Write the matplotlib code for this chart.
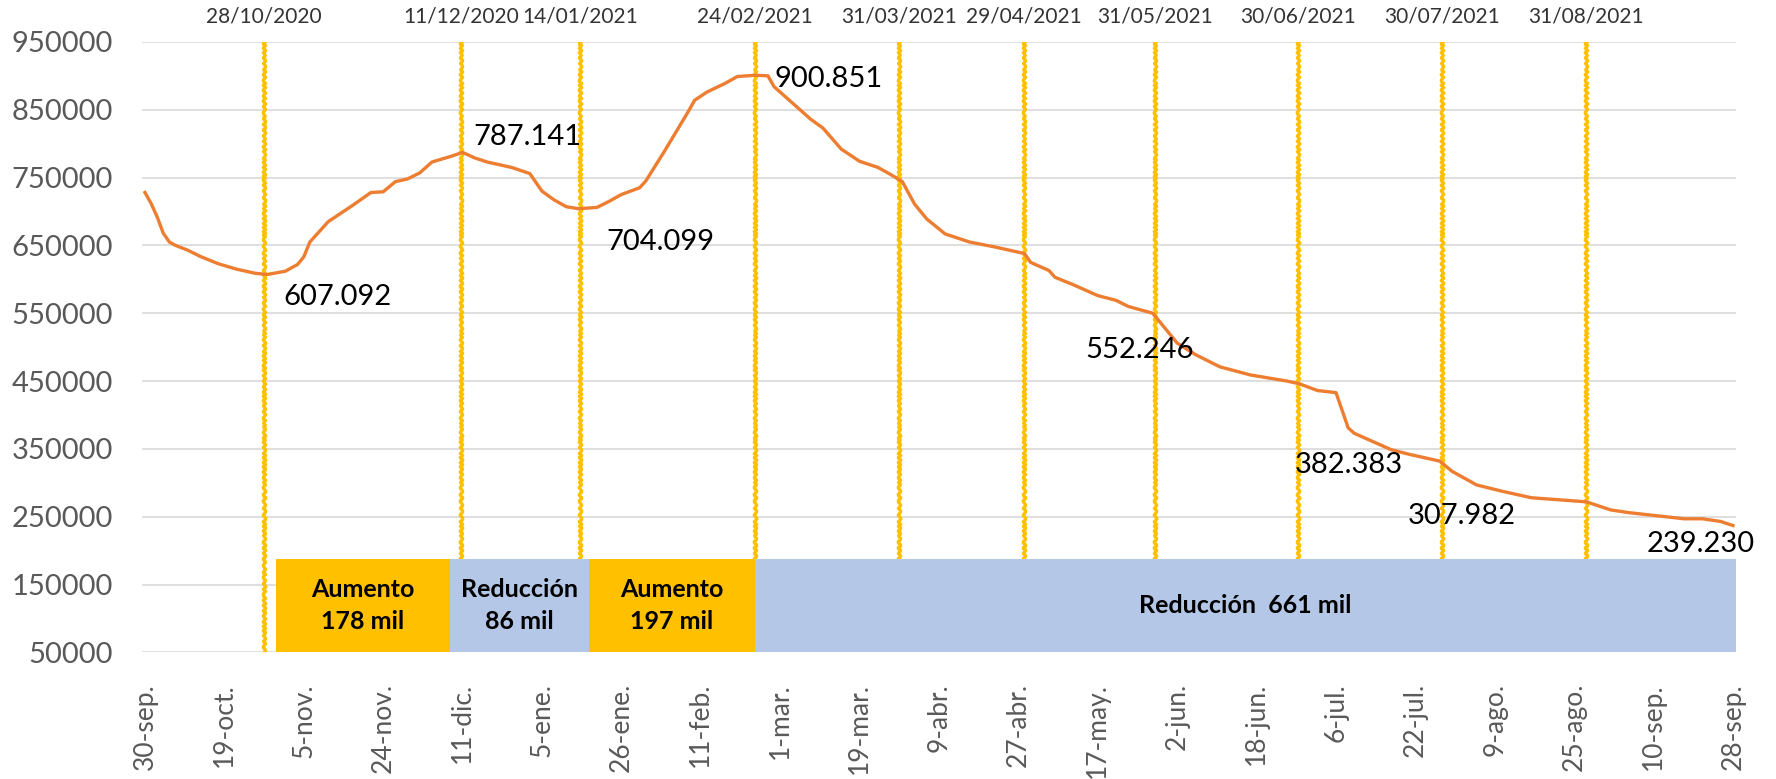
import matplotlib
matplotlib.use("Agg")
import matplotlib.pyplot as plt
from matplotlib.patches import Rectangle

# category axis: one point per business day, tick label every 13 points
tick_labels = ["30-sep.", "19-oct.", "5-nov.", "24-nov.", "11-dic.", "5-ene.",
               "26-ene.", "11-feb.", "1-mar.", "19-mar.", "9-abr.", "27-abr.",
               "17-may.", "2-jun.", "18-jun.", "6-jul.", "22-jul.", "9-ago.",
               "25-ago.", "10-sep.", "28-sep."]
tick_step = 13

# series (position on the category axis, value)
day_idx = [0, 1, 2, 3, 4, 5, 7, 9, 12, 15, 18, 20, 23, 25, 26, 27, 30, 34, 37,
           39, 41, 43, 45, 47, 50, 52, 54, 56, 60, 63, 65, 67, 69, 71, 74, 76,
           78, 81, 82, 85, 89, 90, 92, 95, 97, 100, 102, 103, 106, 109, 111,
           114, 117, 120, 122, 124, 126, 128, 131, 135, 139, 143, 144, 145,
           148, 149, 152, 156, 159, 161, 165, 169, 172, 176, 181, 187, 189,
           192, 195, 197, 198, 204, 207, 212, 214, 218, 222, 227, 233, 236,
           240, 243, 249, 252, 255, 258, 260]
values = [728000, 712000, 692000, 668000, 655000, 650000, 643000, 634000,
          623000, 615000, 609000, 607092, 612000, 622000, 633000, 655000,
          685000, 709000, 728000, 729000, 744000, 748000, 757000, 773000,
          781000, 787141, 779000, 773000, 765000, 756000, 730000, 717000,
          707000, 704099, 706000, 715000, 725000, 735000, 745000, 788000,
          848000, 864000, 876000, 889000, 899000, 900851, 900000, 884000,
          860000, 836000, 823000, 792000, 774000, 765000, 755000, 744000,
          711000, 689000, 667000, 655000, 648000, 640000, 638000, 625000,
          613000, 603000, 592000, 576000, 569000, 560000, 550000, 506000,
          489000, 471000, 459000, 450000, 446000, 436000, 433000, 381000,
          373000, 349000, 342000, 332000, 317000, 297000, 288000, 278000,
          274000, 272000, 260000, 256000, 250000, 247000, 247000, 243000,
          237000]

# event dates (vertical markers)
event_labels = ["28/10/2020", "11/12/2020", "14/01/2021", "24/02/2021",
                "31/03/2021", "29/04/2021", "31/05/2021", "30/06/2021",
                "30/07/2021", "31/08/2021"]
event_pos = [19.5, 51.7, 71.2, 99.8, 123.5, 143.9, 165.4, 188.8, 212.3, 235.9]

# value callouts
note_text = ["607.092", "787.141", "704.099", "900.851", "552.246",
             "382.383", "307.982", "239.230"]
note_x = [22.6, 53.7, 75.6, 103.1, 153.9, 188.2, 206.7, 245.9]
note_y = [574000, 810000, 654500, 895000, 496000, 327000, 250500, 210400]

# period boxes
box_start = [21.5, 49.9, 72.7, 99.9]
box_end = [49.9, 72.7, 99.9, 260.5]
box_kind = ["up", "down", "up", "down"]
box_text = ["Aumento\n178 mil", "Reducción\n86 mil", "Aumento\n197 mil",
            "Reducción  661 mil"]
box_low, box_high = 50000, 188000

LINE = "#ED7D31"
GOLD = "#FFC000"
BLUE = "#B4C7E7"
GRAY = "#595959"

plt.rcParams["font.family"] = ["Lato", "DejaVu Sans"]

fig = plt.figure(figsize=(17.76, 7.79), dpi=100)
ax = fig.add_axes([0.0799, 0.1625, 0.8976, 0.7837])

ax.set_xlim(-0.5, 260.5)
ax.set_ylim(50000, 950000)
ax.set_yticks(range(50000, 950001, 100000))
ax.yaxis.grid(True, color="#D9D9D9", linewidth=1.2)
ax.set_axisbelow(True)
for s in ax.spines.values():
    s.set_visible(False)
ax.tick_params(length=0, colors=GRAY)
ax.tick_params(axis="y", labelsize=21, pad=21)
ax.set_xticks(range(0, 261, tick_step))
ax.set_xticklabels(tick_labels, rotation=90, fontsize=19)
ax.tick_params(axis="x", pad=22)

for pos, lab in zip(event_pos, event_labels):
    vl = ax.axvline(pos, ymin=0, ymax=1, color=GOLD, linewidth=2.4, zorder=2)
    vl.set_sketch_params(scale=1.2, length=6, randomness=2)
    ax.text(pos, 1.025, lab, transform=ax.get_xaxis_transform(), ha="center",
            va="bottom", fontsize=15, color="#333333")

for x0, x1, kind, txt in zip(box_start, box_end, box_kind, box_text):
    ax.add_patch(Rectangle((x0, box_low), x1 - x0, box_high - box_low,
                           facecolor=GOLD if kind == "up" else BLUE,
                           edgecolor="none", zorder=3))
    ax.text((x0 + x1) / 2, (box_low + box_high) / 2, txt, ha="center",
            va="center", fontsize=18, fontweight="bold", color="black",
            linespacing=1.5, zorder=4)

ax.plot(day_idx, values, color=LINE, linewidth=2.4, zorder=5,
        solid_joinstyle="round")

for t, x, y in zip(note_text, note_x, note_y):
    ax.text(x, y, t, ha="left", va="center", fontsize=21, color="black",
            zorder=6)

fig.savefig("out.png", dpi=100)
